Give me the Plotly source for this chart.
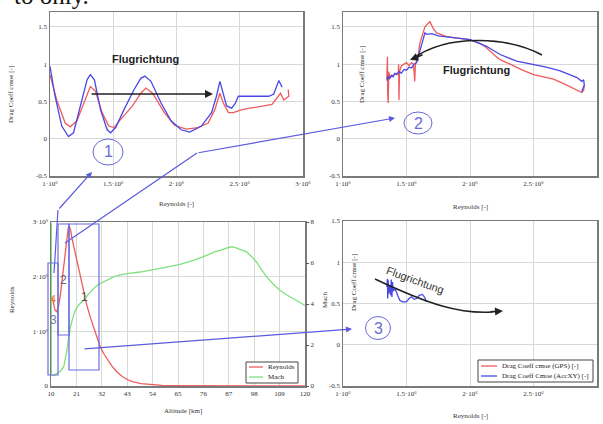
import plotly.graph_objects as go

W, H = 603, 424

# ---------------- data ----------------
# Panel 1 (top-left): Drag coefficient vs Reynolds
p1_blue_re = [1.0e6, 1.04e6, 1.093e6, 1.146e6, 1.186e6, 1.253e6, 1.293e6, 1.319e6, 1.351e6, 1.399e6,
              1.452e6, 1.479e6, 1.519e6, 1.585e6, 1.665e6, 1.718e6, 1.75e6, 1.798e6, 1.878e6, 1.957e6,
              2.037e6, 2.104e6, 2.197e6, 2.277e6, 2.316e6, 2.343e6, 2.37e6, 2.396e6, 2.436e6, 2.463e6,
              2.489e6, 2.729e6, 2.769e6, 2.809e6, 2.835e6]
p1_blue_cd = [0.97, 0.57, 0.17, 0.03, 0.08, 0.52, 0.79, 0.86, 0.79, 0.39,
              0.12, 0.08, 0.15, 0.39, 0.66, 0.81, 0.84, 0.77, 0.48, 0.24,
              0.12, 0.09, 0.17, 0.35, 0.57, 0.77, 0.61, 0.44, 0.41, 0.47,
              0.57, 0.57, 0.60, 0.78, 0.69]
p1_red_re = [1.0e6, 1.053e6, 1.12e6, 1.16e6, 1.213e6, 1.279e6, 1.319e6, 1.359e6, 1.412e6, 1.465e6,
             1.505e6, 1.559e6, 1.652e6, 1.718e6, 1.758e6, 1.811e6, 1.904e6, 1.984e6, 2.077e6, 2.17e6,
             2.25e6, 2.303e6, 2.343e6, 2.37e6, 2.41e6, 2.449e6, 2.516e6, 2.755e6, 2.795e6, 2.822e6,
             2.848e6, 2.888e6, 2.883e6]
p1_red_cd = [0.86, 0.52, 0.21, 0.16, 0.24, 0.52, 0.70, 0.64, 0.35, 0.17,
             0.15, 0.26, 0.44, 0.61, 0.68, 0.61, 0.35, 0.18, 0.13, 0.15,
             0.21, 0.39, 0.61, 0.48, 0.35, 0.35, 0.39, 0.46, 0.55, 0.61,
             0.52, 0.57, 0.66]

# Panel 2 (top-right)
p2_red_re = [1.345e6, 1.350e6, 1.352e6, 1.356e6, 1.36e6, 1.37e6, 1.40e6, 1.435e6, 1.438e6, 1.441e6,
             1.445e6, 1.46e6, 1.48e6, 1.50e6, 1.52e6, 1.54e6, 1.555e6, 1.565e6, 1.57e6, 1.59e6,
             1.605e6, 1.645e6, 1.684e6, 1.71e6, 1.737e6, 1.816e6, 1.90e6, 2.0e6, 2.08e6, 2.13e6,
             2.2e6, 2.237e6, 2.316e6, 2.4e6, 2.5e6, 2.6e6, 2.658e6, 2.75e6, 2.842e6, 2.88e6,
             2.895e6, 2.9e6]
p2_red_cd = [0.80, 1.10, 0.60, 0.48, 0.90, 0.82, 0.86, 0.88, 1.00, 0.52,
             0.90, 0.98, 1.00, 1.02, 0.98, 1.02, 1.00, 0.77, 1.00, 1.10,
             1.28, 1.50, 1.57, 1.48, 1.42, 1.37, 1.35, 1.33, 1.28, 1.22,
             1.11, 1.06, 1.00, 0.93, 0.86, 0.82, 0.80, 0.73, 0.66, 0.62,
             0.65, 0.72]
p2_blue_re = [1.345e6, 1.355e6, 1.365e6, 1.38e6, 1.395e6, 1.41e6, 1.425e6, 1.44e6, 1.46e6, 1.48e6,
              1.50e6, 1.52e6, 1.54e6, 1.56e6, 1.58e6, 1.61e6, 1.645e6, 1.66e6, 1.70e6, 1.75e6,
              1.842e6, 2.0e6, 2.13e6, 2.237e6, 2.368e6, 2.5e6, 2.6e6, 2.71e6, 2.8e6, 2.842e6,
              2.88e6, 2.895e6, 2.9e6, 2.88e6]
p2_blue_cd = [0.78, 0.84, 0.80, 0.85, 0.83, 0.88, 0.86, 0.90, 0.88, 0.93,
              0.92, 0.96, 0.95, 1.00, 1.02, 1.20, 1.42, 1.40, 1.41, 1.38,
              1.36, 1.33, 1.24, 1.13, 1.04, 1.00, 0.96, 0.91, 0.85, 0.82,
              0.77, 0.79, 0.72, 0.63]

# Panel 3 (bottom-left): Reynolds and Mach vs altitude
alt_re = [10.5, 11.0, 11.7, 12.4, 13.2, 14.0, 14.8, 15.5, 16.2, 16.9,
          17.5, 17.9, 18.5, 19.0, 19.8, 21.0, 22.0, 23.0, 24.1, 25.5,
          27.0, 28.5, 29.9, 31.3, 33.0, 34.2, 36.5, 38.5, 41.0, 43.5,
          45.7, 49.0, 52.9, 58.0, 65.0, 76.0, 87.0, 98.0, 120.0]
reynolds = [1.63e6, 1.50e6, 1.39e6, 1.36e6, 1.45e6, 1.65e6, 1.95e6, 2.2e6, 2.5e6, 2.75e6,
            2.9e6, 2.93e6, 2.85e6, 2.72e6, 2.56e6, 2.35e6, 2.18e6, 1.95e6, 1.7e6, 1.48e6,
            1.26e6, 1.06e6, 0.9e6, 0.72e6, 0.58e6, 0.5e6, 0.36e6, 0.26e6, 0.17e6, 0.11e6,
            0.075e6, 0.045e6, 0.025e6, 0.012e6, 0.006e6, 0.003e6, 0.001e6, 0.0005e6, 0.0]
alt_mach = [10.15, 10.15, 11.0, 12.6, 14.0, 15.5, 16.2, 16.9, 17.6, 18.4,
            19.5, 20.5, 22.0, 24.1, 26.0, 28.4, 30.5, 32.8, 35.0, 37.1,
            40.0, 42.9, 48.6, 54.4, 60.1, 65.9, 71.7, 77.4, 81.0, 83.2,
            86.0, 87.5, 89.0, 90.4, 92.5, 94.7, 97.0, 99.0, 101.0, 103.4,
            106.0, 109.1, 112.0, 114.9, 117.5, 120.0]
mach = [7.95, 0.55, 0.50, 0.60, 0.72, 0.93, 1.30, 1.74, 2.30, 2.88,
        3.35, 3.69, 3.95, 4.18, 4.45, 4.75, 4.95, 5.07, 5.22, 5.32,
        5.42, 5.48, 5.56, 5.67, 5.80, 5.93, 6.13, 6.37, 6.55, 6.62,
        6.75, 6.78, 6.78, 6.73, 6.65, 6.54, 6.30, 6.05, 5.70, 5.32,
        5.00, 4.67, 4.45, 4.26, 4.10, 3.93]

# Panel 4 (bottom-right)
p4_blue_re = [1.345e6, 1.35e6, 1.352e6, 1.356e6, 1.36e6, 1.37e6, 1.375e6, 1.38e6, 1.385e6, 1.39e6,
              1.395e6, 1.41e6, 1.43e6, 1.447e6, 1.47e6, 1.50e6, 1.52e6, 1.54e6, 1.56e6, 1.58e6,
              1.60e6, 1.625e6, 1.645e6, 1.655e6]
p4_blue_cd = [0.70, 0.80, 0.56, 0.78, 0.62, 0.72, 0.60, 0.79, 0.58, 0.76,
              0.65, 0.68, 0.60, 0.54, 0.52, 0.52, 0.56, 0.58, 0.55, 0.56,
              0.60, 0.61, 0.57, 0.52]

legend1_names = ["Reynolds", "Mach"]
legend2_names = ["Drag Coeff cmoe (GPS) [-]", "Drag Coeff Cmoe (AccXY) [-]"]

re_ticks = [1e6, 1.5e6, 2e6, 2.5e6, 3e6]
re_ticktext = ["1·10⁶", "1.5·10⁶", "2·10⁶", "2.5·10⁶", "3·10⁶"]
cd_ticks = [-0.5, 0, 0.5, 1, 1.5]
cd_ticktext = ["-0.5", "0", "0.5", "1", "1.5"]
alt_ticks = [10, 21, 32, 43, 54, 65, 76, 87, 98, 109, 120]
rey_ticks = [0, 1e6, 2e6, 3e6]
rey_ticktext = ["0", "1·10⁶", "2·10⁶", "3·10⁶"]
mach_ticks = [0, 2, 4, 6, 8]

# ---------------- styling helpers ----------------
RED = "#ef5b5b"
BLUE = "#4848e6"
GREEN = "#7fe07f"
CIRC = "#6a6ad8"
SERIF = "Liberation Serif"
SANS = "Liberation Sans"


def px(x):
    return x / W


def py(y):
    return 1 - y / H


tickfont = dict(family=SERIF, size=7, color="#333")
axis_common = dict(showgrid=True, gridcolor="#d8d8d8", gridwidth=1, zeroline=False,
                   showline=True, linecolor="#7a7a7a", linewidth=1.5, mirror=True,
                   ticks="", tickfont=tickfont, fixedrange=True, automargin=False)

fig = go.Figure()

line_w = 1.3
fig.add_trace(go.Scatter(x=p1_red_re, y=p1_red_cd, mode="lines", line=dict(color=RED, width=line_w),
                         xaxis="x", yaxis="y", showlegend=False))
fig.add_trace(go.Scatter(x=p1_blue_re, y=p1_blue_cd, mode="lines", line=dict(color=BLUE, width=line_w),
                         xaxis="x", yaxis="y", showlegend=False))
fig.add_trace(go.Scatter(x=p2_red_re, y=p2_red_cd, mode="lines", line=dict(color=RED, width=line_w),
                         xaxis="x2", yaxis="y2", showlegend=False))
fig.add_trace(go.Scatter(x=p2_blue_re, y=p2_blue_cd, mode="lines", line=dict(color=BLUE, width=line_w),
                         xaxis="x2", yaxis="y2", showlegend=False))
fig.add_trace(go.Scatter(x=alt_re, y=reynolds, mode="lines", line=dict(color=RED, width=line_w),
                         xaxis="x3", yaxis="y3", name=legend1_names[0], showlegend=False))
fig.add_trace(go.Scatter(x=alt_mach, y=mach, mode="lines", line=dict(color=GREEN, width=line_w),
                         xaxis="x3", yaxis="y5", name=legend1_names[1], showlegend=False))
fig.add_trace(go.Scatter(x=p4_blue_re, y=p4_blue_cd, mode="lines", line=dict(color=BLUE, width=line_w),
                         xaxis="x4", yaxis="y4", name=legend2_names[1], showlegend=False))

dom_x_left = [px(50), px(303)]
dom_x_right = [px(343), px(597)]
dom_y_top = [py(176), py(12)]
dom_y_bot = [py(386), py(222)]

fig.update_layout(
    width=W, height=H, autosize=False,
    margin=dict(l=0, r=0, t=0, b=0, pad=0),
    paper_bgcolor="white", plot_bgcolor="white",
    showlegend=False,
    xaxis=dict(domain=dom_x_left, range=[1e6, 3e6], tickvals=re_ticks, ticktext=re_ticktext,
               anchor="y", **axis_common),
    yaxis=dict(domain=dom_y_top, range=[-0.5, 1.7], tickvals=cd_ticks, ticktext=cd_ticktext,
               anchor="x", **axis_common),
    xaxis2=dict(domain=dom_x_right, range=[1e6, 3e6], tickvals=re_ticks, ticktext=re_ticktext,
                anchor="y2", **axis_common),
    yaxis2=dict(domain=dom_y_top, range=[-0.5, 1.7], tickvals=cd_ticks, ticktext=cd_ticktext,
                anchor="x2", **axis_common),
    xaxis3=dict(domain=[px(51), px(305)], range=[10, 120], tickvals=alt_ticks,
                anchor="y3", **axis_common),
    yaxis3=dict(domain=dom_y_bot, range=[0, 3e6], tickvals=rey_ticks, ticktext=rey_ticktext,
                anchor="x3", **axis_common),
    yaxis5=dict(domain=dom_y_bot, range=[0, 8], tickvals=mach_ticks, overlaying="y3", side="right",
                anchor="x3", showgrid=False, zeroline=False, showline=False, ticks="outside",
                ticklen=3, tickcolor="#555", tickfont=tickfont, fixedrange=True, automargin=False),
    xaxis4=dict(domain=dom_x_right, range=[1e6, 3e6], tickvals=re_ticks, ticktext=re_ticktext,
                anchor="y4", **axis_common),
    yaxis4=dict(domain=[py(386), py(221)], range=[-0.5, 1.5], tickvals=cd_ticks, ticktext=cd_ticktext,
                anchor="x4", **axis_common),
)

annotations = []


def label(text, x, y, size=7, angle=0, color="#333", family=SERIF, bold=False, xanchor="center"):
    t = f"<b>{text}</b>" if bold else text
    annotations.append(dict(text=t, x=px(x), y=py(y), xref="paper", yref="paper",
                            showarrow=False, textangle=angle, xanchor=xanchor, yanchor="middle",
                            font=dict(family=family, size=size, color=color)))


# axis titles
label("Drag Coeff cmoe [-]", 11, 95, angle=-90)
label("Reynolds [-]", 176, 204)
label("Drag Coeff cmoe [-]", 362, 75, angle=-90)
label("Reynolds [-]", 470, 207)
label("Reynolds", 12, 300, angle=-90)
label("Altitude [km]", 183, 411)
label("Mach", 325, 300, angle=-90)
label("Drag Coeff cmoe [-]", 354, 283, angle=-90)
label("Reynolds [-]", 470, 416)

# Flugrichtung labels
label("Flugrichtung", 145, 59, size=11, color="#222", family=SANS, bold=True)
label("Flugrichtung", 476, 70, size=11, color="#222", family=SANS, bold=True)
label("Flugrichtung", 415, 280, size=11, angle=20, color="#333", family=SANS)

# circled numbers
label("1", 108, 152, size=16, color=CIRC, family=SANS)
label("2", 418, 123, size=16, color=CIRC, family=SANS)
label("3", 378, 328, size=16, color=CIRC, family=SANS)

# box numbers in bottom-left
label("1", 84, 297, size=12, color="#555", family=SANS)
label("2", 63, 280, size=12, color="#6a5a8a", family=SANS)
label("4", 53, 299, size=11, color="#e08a2a", family=SANS)
label("3", 53, 320, size=12, color="#7a7aaa", family=SANS)

# cut-off document text at the very top
annotations.append(dict(text="to only.", x=px(12), y=py(11), xref="paper", yref="paper",
                        showarrow=False, xanchor="left", yanchor="bottom",
                        font=dict(family=SERIF, size=25, color="#111")))

# manual legends
label(legend1_names[0], 266, 367, xanchor="left", color="#222")
label(legend1_names[1], 266, 377, xanchor="left", color="#222")
label(legend2_names[0], 500, 366, xanchor="left", color="#222")
label(legend2_names[1], 500, 376, xanchor="left", color="#222")


def arrow(x_head, y_head, x_tail, y_tail, color, width=1.2, head=2, size=1.0):
    annotations.append(dict(text="", x=px(x_head), y=py(y_head), xref="paper", yref="paper",
                            ax=x_tail - x_head, ay=y_tail - y_head, axref="pixel", ayref="pixel",
                            showarrow=True, arrowhead=head, arrowsize=size, arrowwidth=width,
                            arrowcolor=color))


LINK = "#5a5ae0"
arrow(92, 172, 58, 210, LINK)
arrow(395, 118, 197, 153, LINK)
arrow(352, 329, 83, 349, LINK)
arrow(213, 94, 90, 94, "#222", width=1.6)
arrow(410, 60, 424, 54, "#222", width=1.6)
arrow(503, 311, 489, 312, "#222", width=1.6)

fig.update_layout(annotations=annotations)

shapes = []


def seg(x0, y0, x1, y1, color, width=1.2):
    shapes.append(dict(type="line", xref="paper", yref="paper", x0=px(x0), y0=py(y0),
                       x1=px(x1), y1=py(y1), line=dict(color=color, width=width)))


def rect(x0, y0, x1, y1, color, width=1.2, fill=None):
    d = dict(type="rect", xref="paper", yref="paper", x0=px(x0), y0=py(y0),
             x1=px(x1), y1=py(y1), line=dict(color=color, width=width))
    if fill:
        d["fillcolor"] = fill
    shapes.append(d)


def ellipse(cx, cy, rx, ry, color, width=1.0):
    shapes.append(dict(type="circle", xref="paper", yref="paper", x0=px(cx - rx), y0=py(cy + ry),
                       x1=px(cx + rx), y1=py(cy - ry), line=dict(color=color, width=width)))


def pth(points, color, width=1.6):
    d = "M {:.5f},{:.5f} ".format(px(points[0][0]), py(points[0][1]))
    d += "C " + " ".join("{:.5f},{:.5f}".format(px(a), py(b)) for a, b in points[1:])
    shapes.append(dict(type="path", xref="paper", yref="paper", path=d,
                       line=dict(color=color, width=width)))


# connection lines
seg(54, 273, 58, 210, LINK)
seg(65, 243, 197, 153, LINK)

# boxes in bottom-left
BOX = "#6b6bdd"
rect(48, 263, 58, 375, BOX)
rect(58, 224, 69, 335, BOX)
rect(69, 224, 99, 370, BOX)

# circles
ellipse(108, 152, 15, 13, CIRC)
ellipse(418, 123, 14, 11, CIRC)
ellipse(378, 328, 12.5, 11.5, CIRC)

# curved flight direction arrows
pth([(542, 55), (510, 38), (450, 32), (412, 59)], "#222")
pth([(375, 279), (430, 305), (460, 314), (492, 312)], "#222")

# legend frames and keys
rect(246, 362, 298, 383, "#444", width=1, fill="white")
seg(249, 367, 263, 367, RED, 1.3)
seg(249, 377, 263, 377, GREEN, 1.3)
rect(478, 360, 593, 382, "#444", width=1, fill="white")
seg(481, 366, 497, 366, RED, 1.3)
seg(481, 376, 497, 376, BLUE, 1.3)

fig.update_layout(shapes=shapes)

fig.write_html("out.html", config={"displayModeBar": False, "staticPlot": True},
               post_script="document.body.style.margin='0';document.body.style.overflow='hidden';")
